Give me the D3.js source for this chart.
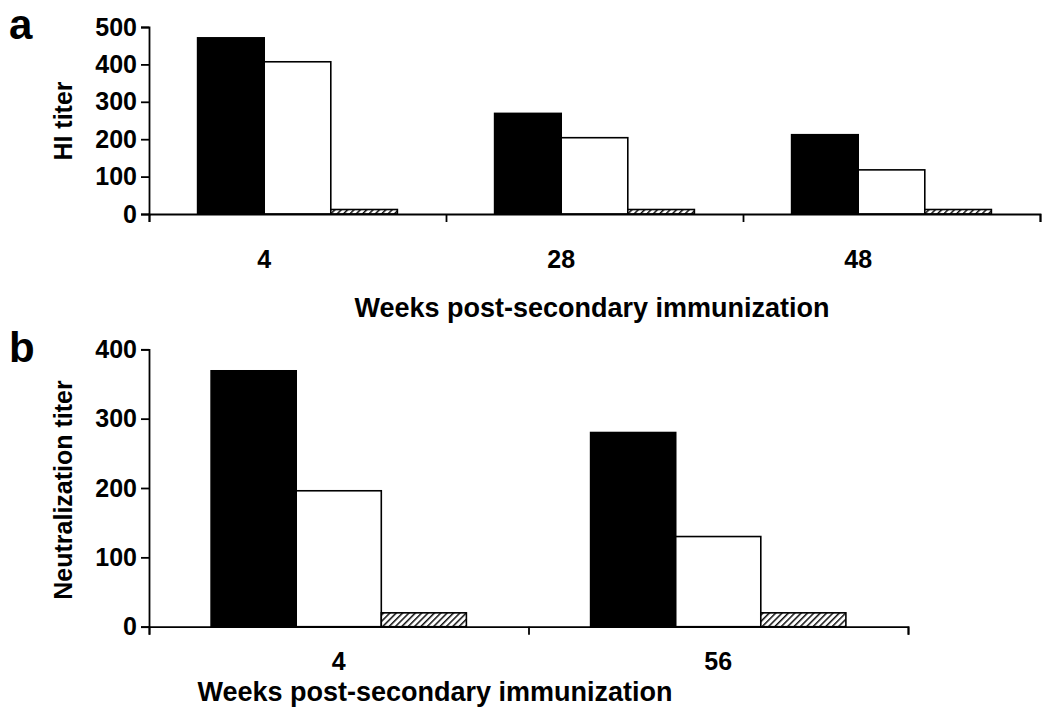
<!DOCTYPE html>
<html>
<head>
<meta charset="utf-8">
<script src="https://cdn.jsdelivr.net/npm/d3@7"></script>
<style>
    body { margin: 0; background: #fff; }
    text { font-family: "Liberation Sans", Arial, Helvetica, sans-serif; font-weight: bold; fill: #000; }
</style>
</head>
<body>
<svg id="chart" width="1050" height="723"></svg>
<script>
// ===================================
// HI / NEUTRALIZATION TITERS
// ===================================

const seriesKeys = ['solid', 'open', 'hatched'];

// panel a
const weeksA = ['4', '28', '48'];
const hiSolid = [471, 269, 212];
const hiOpen = [407, 204, 118];
const hiHatched = [12, 12, 12];
const hiTicks = [0, 100, 200, 300, 400, 500];

// panel b
const weeksB = ['4', '56'];
const ntSolid = [369, 280];
const ntOpen = [196, 130];
const ntHatched = [20, 20];
const ntTicks = [0, 100, 200, 300, 400];

const svg = d3.select('#chart');

// hatch pattern for the third series
const defs = svg.append('defs');
const pat = defs.append('pattern')
    .attr('id', 'hatch')
    .attr('patternUnits', 'userSpaceOnUse')
    .attr('width', 4.5)
    .attr('height', 4.5)
    .attr('patternTransform', 'rotate(45)');
pat.append('rect').attr('width', 4.5).attr('height', 4.5).attr('fill', '#fff');
pat.append('line')
    .attr('x1', 0).attr('y1', 0).attr('x2', 0).attr('y2', 4.5)
    .attr('stroke', '#111').attr('stroke-width', 3);

const fills = { solid: '#000', open: '#fff', hatched: 'url(#hatch)' };

function drawPanel(cfg) {
    const rows = cfg.cats.map((c, i) => ({
        cat: c,
        values: seriesKeys.map((k, j) => ({ key: k, value: cfg.series[j][i] }))
    }));

    const x0 = d3.scaleBand().domain(cfg.cats).range([cfg.left, cfg.right]);
    const x1 = d3.scaleBand().domain(seriesKeys)
        .range([0, x0.bandwidth()])
        .paddingOuter(0.73);
    const y = d3.scaleLinear().domain([0, cfg.max]).range([cfg.bottom, cfg.top]);
    const xEdges = d3.scaleLinear().domain([0, cfg.cats.length]).range([cfg.left, cfg.right]);

    const g = svg.append('g');

    // bars
    g.append('g')
        .selectAll('g')
        .data(rows)
        .join('g')
        .attr('transform', d => `translate(${x0(d.cat)},0)`)
        .selectAll('rect')
        .data(d => d.values)
        .join('rect')
        .attr('x', d => x1(d.key))
        .attr('y', d => y(d.value))
        .attr('width', x1.bandwidth())
        .attr('height', d => y(0) - y(d.value))
        .attr('fill', d => fills[d.key])
        .attr('stroke', '#000')
        .attr('stroke-width', 1.6);

    // y axis
    const yAxis = g.append('g')
        .attr('transform', `translate(${cfg.left},0)`)
        .call(d3.axisLeft(y).tickValues(cfg.ticks).tickSize(8).tickPadding(4));
    yAxis.selectAll('text').attr('font-size', 25).style('font-family', null);

    // x axis, ticks at the group boundaries
    g.append('g')
        .attr('transform', `translate(0,${cfg.bottom})`)
        .call(d3.axisBottom(xEdges).tickValues(d3.range(cfg.cats.length + 1)).tickSize(8).tickFormat(''));

    g.selectAll('.domain, .tick line').attr('stroke', '#000').attr('stroke-width', 1.8);

    // category labels
    g.append('g')
        .selectAll('text')
        .data(cfg.cats)
        .join('text')
        .attr('x', d => x0(d) + cfg.labelAt(x1))
        .attr('y', cfg.labelY)
        .attr('text-anchor', 'middle')
        .attr('font-size', 25)
        .text(d => d);

    // axis titles
    g.append('text')
        .attr('x', cfg.titleX)
        .attr('y', cfg.titleY)
        .attr('text-anchor', 'middle')
        .attr('font-size', 27)
        .text('Weeks post-secondary immunization');

    g.append('text')
        .attr('transform', `translate(${cfg.yTitleX},${cfg.yTitleY}) rotate(-90)`)
        .attr('text-anchor', 'middle')
        .attr('font-size', 25)
        .text(cfg.yTitle);

    g.append('text')
        .attr('x', cfg.letterX)
        .attr('y', cfg.letterY)
        .attr('font-size', 42)
        .text(cfg.letter);
}

drawPanel({
    letter: 'a', letterX: 9, letterY: 39,
    cats: weeksA, series: [hiSolid, hiOpen, hiHatched],
    max: 500, ticks: hiTicks,
    left: 149, right: 1040, top: 27, bottom: 214,
    labelAt: x1 => x1('open'), labelY: 268,
    titleX: 592, titleY: 317,
    yTitle: 'HI titer', yTitleX: 72, yTitleY: 121
});

drawPanel({
    letter: 'b', letterX: 9, letterY: 362,
    cats: weeksB, series: [ntSolid, ntOpen, ntHatched],
    max: 400, ticks: ntTicks,
    left: 149, right: 908, top: 349.3, bottom: 626.7,
    labelAt: x1 => x1.range()[1] / 2, labelY: 670,
    titleX: 435, titleY: 701,
    yTitle: 'Neutralization titer', yTitleX: 72, yTitleY: 490
});
</script>
</body>
</html>
